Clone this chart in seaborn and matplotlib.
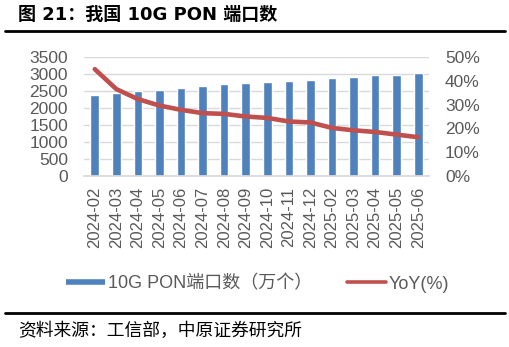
import matplotlib
matplotlib.use("Agg")
import matplotlib.pyplot as plt
import seaborn as sns
import numpy as np
import pandas as pd
from matplotlib.lines import Line2D
from matplotlib.ticker import FuncFormatter, MultipleLocator

months = ["2024-02", "2024-03", "2024-04", "2024-05", "2024-06", "2024-07", "2024-08",
          "2024-09", "2024-10", "2024-11", "2024-12", "2025-02", "2025-03", "2025-04",
          "2025-05", "2025-06"]
ports = [2390, 2440, 2488, 2536, 2585, 2634, 2703, 2723, 2752, 2792, 2821, 2890, 2920,
         2959, 2978, 3018]
yoy = [44.9, 36.5, 32.3, 29.6, 27.8, 26.4, 26.1, 25.0, 24.4, 22.9, 22.5, 20.2, 19.2,
       18.5, 17.4, 16.3]
bar_label = "10G PON端口数（万个）"
line_label = "YoY(%)"
title = "图 21：我国 10G PON 端口数"
source = "资料来源：工信部，中原证券研究所"

sns.set_theme(style="white")
plt.rcParams['font.family'] = ['Liberation Sans', 'Noto Sans CJK SC', 'DejaVu Sans']

BLUE = "#4F81BD"
RED = "#C0504D"
GRAY = "#595959"

W, H = 510, 347
fig = plt.figure(figsize=(W / 100, H / 100), dpi=100)
ax = fig.add_axes([84 / W, 1 - 176 / H, (429 - 84) / W, (176 - 57) / H])

df = pd.DataFrame({"month": months, "ports": ports, "yoy": yoy})
sns.barplot(data=df, x="month", y="ports", color=BLUE, saturation=1, width=0.4, ax=ax)
ax.set_ylim(0, 3500)
ax.set_xlim(-0.5, len(months) - 0.5)
ax.yaxis.set_major_locator(MultipleLocator(500))
ax.grid(axis="y", color="#D9D9D9", linewidth=1)
ax.set_axisbelow(True)
ax.set_xlabel("")
ax.set_ylabel("")
for s in ["top", "right", "left"]:
    ax.spines[s].set_visible(False)
ax.spines["bottom"].set_color("#D9D9D9")
ax.tick_params(axis="y", labelsize=12.5, colors=GRAY, length=0, pad=11.5)
ax.tick_params(axis="x", labelsize=12, colors=GRAY, length=0, pad=8)
for lab in ax.get_xticklabels():
    lab.set_rotation(90)
ax.set_xticks(np.arange(-0.5, len(months), 1), minor=True)
ax.tick_params(axis="x", which="minor", length=4.5, color="#D9D9D9", width=1)

ax2 = ax.twinx()
sns.lineplot(x=np.arange(len(months)), y=yoy, color=RED, linewidth=3.3, ax=ax2)
ax2.set_ylim(0, 50)
ax2.yaxis.set_major_locator(MultipleLocator(10))
ax2.yaxis.set_major_formatter(FuncFormatter(lambda v, p: f"{v:.0f}%"))
ax2.tick_params(axis="y", labelsize=12.5, colors=GRAY, length=0, pad=11.5)
for s in ["top", "right", "left", "bottom"]:
    ax2.spines[s].set_visible(False)
ax2.grid(False)

handles = [Line2D([0], [0], color=BLUE, linewidth=4, solid_capstyle="butt"),
           Line2D([0], [0], color=RED, linewidth=2.6, solid_capstyle="round")]
leg = fig.legend(handles, [bar_label, line_label], loc="center", ncol=2,
                 bbox_to_anchor=(0.505, 1 - 284 / H), frameon=False,
                 fontsize=13, handlelength=2.2, handletextpad=0.15, columnspacing=1.9)
for t in leg.get_texts():
    t.set_color(GRAY)

fig.text(18 / W, 1 - 15 / H, title, fontsize=13, fontweight="bold", color="black",
         va="center", ha="left", family=['DejaVu Sans', 'Noto Sans CJK SC'])
fig.add_artist(Line2D([5 / W, 505 / W], [1 - 31 / H, 1 - 31 / H], color="black", linewidth=2))
fig.add_artist(Line2D([5 / W, 505 / W], [1 - 313 / H, 1 - 313 / H], color="black", linewidth=2))
fig.text(18 / W, 1 - 331 / H, source, fontsize=12.8, color="black", va="center", ha="left",
         family=['Noto Sans CJK SC'])

fig.savefig("out.png", dpi=100)
